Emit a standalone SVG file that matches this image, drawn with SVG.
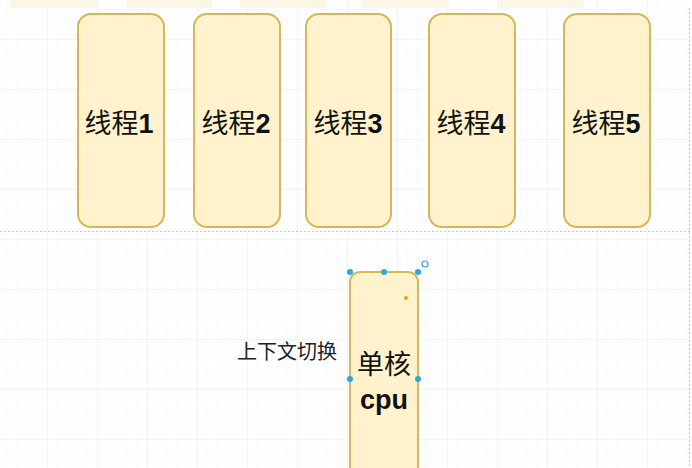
<svg xmlns="http://www.w3.org/2000/svg" width="692" height="468" viewBox="0 0 692 468">
<defs>
<pattern id="g" width="10" height="10" patternUnits="userSpaceOnUse"><path d="M10 0V10H0" fill="none" stroke="#f5f5f5" stroke-width="1"/></pattern>
<pattern id="G" width="50" height="50" patternUnits="userSpaceOnUse" x="-2" y="-10"><rect width="50" height="50" fill="url(#g)"/><path d="M50 0V50H0" fill="none" stroke="#ececec" stroke-width="1"/></pattern>
</defs>
<style>
.box{fill:#fff2cc;stroke:#d6b656;stroke-width:2}
.t{font-family:"Noto Sans CJK SC","Liberation Sans",sans-serif;font-size:27px;fill:#111;text-anchor:middle}
.n{font-family:"Liberation Sans",Arial,sans-serif;font-weight:bold}
.h{fill:#29a8e0}
</style>
<rect width="692" height="468" fill="#fff"/>
<rect width="692" height="468" fill="url(#G)"/>
<g fill="#fdf6e6">
<rect x="10" y="0" width="87" height="8"/><rect x="127" y="0" width="85" height="8"/><rect x="240" y="0" width="86" height="8"/><rect x="362" y="0" width="87" height="8"/><rect x="498" y="0" width="86" height="8"/>
</g>
<line x1="0" y1="231.5" x2="692" y2="231.5" stroke="#c8c8c8" stroke-dasharray="2,2"/>
<line x1="689.5" y1="8" x2="689.5" y2="468" stroke="#c8c8c8" stroke-dasharray="2,2"/>
<g id="t1"><rect class="box" x="78" y="14" width="86" height="213" rx="13"/><text class="t" x="119" y="133">线程<tspan class="n">1</tspan></text></g>
<g id="t2"><rect class="box" x="194" y="14" width="86" height="213" rx="13"/><text class="t" x="236" y="133">线程<tspan class="n">2</tspan></text></g>
<g id="t3"><rect class="box" x="306" y="14" width="85" height="213" rx="13"/><text class="t" x="348" y="133">线程<tspan class="n">3</tspan></text></g>
<g id="t4"><rect class="box" x="429" y="14" width="86" height="213" rx="13"/><text class="t" x="471" y="133">线程<tspan class="n">4</tspan></text></g>
<g id="t5"><rect class="box" x="564" y="14" width="86" height="213" rx="13"/><text class="t" x="606" y="133">线程<tspan class="n">5</tspan></text></g>
<g id="cpu">
<rect class="box" x="350" y="272" width="68" height="210" rx="10"/>
<text class="t" x="384" y="374" font-size="26">单核</text>
<text class="t n" x="384" y="409" font-size="25">cpu</text>
<circle class="h" cx="350" cy="272" r="3"/><circle class="h" cx="384" cy="272" r="3"/><circle class="h" cx="418" cy="272" r="3"/>
<circle class="h" cx="350" cy="379" r="3"/><circle class="h" cx="418" cy="379" r="3"/>
<circle cx="406" cy="298" r="2" fill="#f0a020"/>
<circle cx="425" cy="264" r="3" fill="none" stroke="#29a8e0" stroke-width="1.2"/>
</g>
<g id="label"><text x="237" y="359" font-family="Noto Sans CJK SC,sans-serif" font-size="20" fill="#222">上下文切换</text></g>
<g id="connectors"></g>
</svg>
